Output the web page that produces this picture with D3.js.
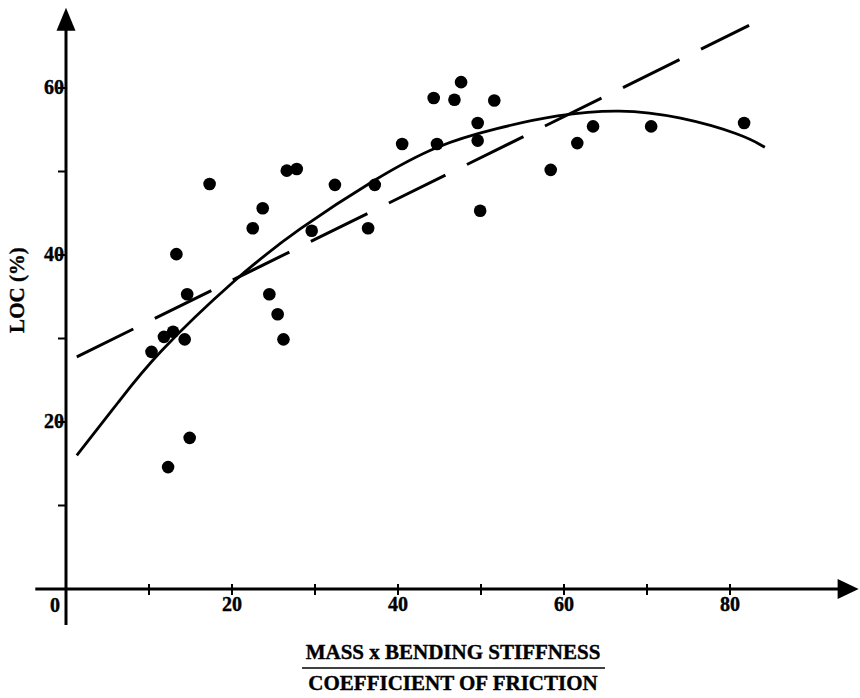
<!DOCTYPE html>
<html>
<head>
<meta charset="utf-8">
<script src="https://cdn.jsdelivr.net/npm/d3@7"></script>
<style>
body { margin: 0; background: #fff; }
text { font-family: "Liberation Serif", "Times New Roman", serif; font-weight: bold; fill: #000; stroke: #000; stroke-width: 0.4px; }
</style>
</head>
<body>
<div id="main"></div>
<script>
// tick marks and labels
var xTicks = [10, 20, 30, 40, 50, 60, 70, 80];
var xTickLabels = [20, 40, 60, 80];
var yTicks = [10, 20, 30, 40, 50, 60];
var yTickLabels = [20, 40, 60];

// measured points (x = mass*stiffness/friction, y = LOC %)
var ptX = [10.3, 11.8, 12.9, 14.3, 13.3, 14.6, 14.9, 12.3, 17.3, 22.5, 23.7, 24.5,
           25.5, 26.2, 26.6, 27.8, 29.6, 32.4, 36.4, 37.2, 40.5, 44.3, 44.7, 46.8,
           47.6, 49.6, 49.6, 49.9, 51.6, 58.4, 61.6, 63.5, 70.5, 81.7];
var ptY = [28.4, 30.2, 30.8, 29.9, 40.1, 35.3, 18.1, 14.6, 48.5, 43.2, 45.6, 35.3,
           32.9, 29.9, 50.1, 50.3, 42.9, 48.4, 43.2, 48.4, 53.3, 58.8, 53.3, 58.6,
           60.7, 55.8, 53.7, 45.3, 58.5, 50.2, 53.4, 55.4, 55.4, 55.8];

// second order fit
var fitX = [1.3, 6.5, 10.5, 20.6, 27.8, 37.5, 44.7, 51.9, 59.2, 66.7, 74.0, 81.6, 84.2];
var fitY = [16.0, 22.6, 27.8, 37.4, 43.0, 49.3, 53.2, 55.2, 56.8, 57.5, 56.6, 54.4, 52.9];

// linear fit, end points
var linX = [1.3, 82.3];
var linY = [27.8, 67.5];

var cfg = {
    width: 860,
    height: 698,
    xAxisFrom: -3.7,
    xAxisTo: 95.5,
    yAxisFrom: -4.3,
    yAxisTo: 69.6
};

var x = d3.scaleLinear().domain([0, 80]).range([66, 730]);
var y = d3.scaleLinear().domain([0, 60]).range([589, 88]);

var svg = d3
    .select("#main")
    .append("svg")
    .attr("width", cfg.width)
    .attr("height", cfg.height);

// axes
var x0 = x(0), y0 = y(0);
var xEnd = x(cfg.xAxisTo), yEnd = y(cfg.yAxisTo);

svg.append("line")
    .attr("x1", x(cfg.xAxisFrom)).attr("x2", xEnd - 12)
    .attr("y1", y0).attr("y2", y0)
    .attr("stroke", "#000").attr("stroke-width", 3);

svg.append("line")
    .attr("x1", x0).attr("x2", x0)
    .attr("y1", y(cfg.yAxisFrom)).attr("y2", yEnd + 14)
    .attr("stroke", "#000").attr("stroke-width", 3);

svg.append("path")
    .attr("d", "M" + xEnd + "," + y0 + "L" + (xEnd - 21) + "," + (y0 - 10) + "L" + (xEnd - 21) + "," + (y0 + 10) + "Z")
    .attr("fill", "#000");

svg.append("path")
    .attr("d", "M" + x0 + "," + yEnd + "L" + (x0 - 9.5) + "," + (yEnd + 23) + "L" + (x0 + 9.5) + "," + (yEnd + 23) + "Z")
    .attr("fill", "#000");

svg.selectAll(".xtick")
    .data(xTicks)
    .enter()
    .append("line")
    .attr("class", "xtick")
    .attr("x1", function (d) { return x(d); })
    .attr("x2", function (d) { return x(d); })
    .attr("y1", y0 - 5)
    .attr("y2", y0 + 6)
    .attr("stroke", "#000").attr("stroke-width", 2);

svg.selectAll(".ytick")
    .data(yTicks)
    .enter()
    .append("line")
    .attr("class", "ytick")
    .attr("x1", x0 - 8)
    .attr("x2", x0 + 1)
    .attr("y1", function (d) { return y(d); })
    .attr("y2", function (d) { return y(d); })
    .attr("stroke", "#000").attr("stroke-width", 2);

svg.selectAll(".xlab")
    .data(xTickLabels)
    .enter()
    .append("text")
    .attr("class", "xlab")
    .attr("x", function (d) { return x(d); })
    .attr("y", y0 + 22)
    .attr("text-anchor", "middle")
    .style("font-size", "20px")
    .text(function (d) { return d; });

svg.append("text")
    .attr("x", x0 - 11)
    .attr("y", y0 + 23)
    .attr("text-anchor", "middle")
    .style("font-size", "20px")
    .text("0");

svg.selectAll(".ylab")
    .data(yTickLabels)
    .enter()
    .append("text")
    .attr("class", "ylab")
    .attr("x", x0 - 2)
    .attr("y", function (d) { return y(d); })
    .attr("dy", "0.3em")
    .attr("text-anchor", "end")
    .style("font-size", "20px")
    .text(function (d) { return d; });

// axis titles
svg.append("text")
    .attr("transform", "translate(24,290) rotate(-90)")
    .attr("text-anchor", "middle")
    .style("font-size", "21px")
    .text("LOC (%)");

svg.append("text")
    .attr("x", 453)
    .attr("y", 659)
    .attr("text-anchor", "middle")
    .style("font-size", "21px")
    .text("MASS x BENDING STIFFNESS");

svg.append("line")
    .attr("x1", 302).attr("x2", 605)
    .attr("y1", 668).attr("y2", 668)
    .attr("stroke", "#000").attr("stroke-width", 1.5);

svg.append("text")
    .attr("x", 453)
    .attr("y", 690)
    .attr("text-anchor", "middle")
    .style("font-size", "21px")
    .text("COEFFICIENT OF FRICTION");

// fitted lines
var lineGen = d3.line()
    .x(function (d) { return x(d[0]); })
    .y(function (d) { return y(d[1]); });

svg.append("path")
    .datum(d3.zip(linX, linY))
    .attr("d", lineGen)
    .attr("fill", "none")
    .attr("stroke", "#000")
    .attr("stroke-width", 3)
    .attr("stroke-dasharray", "63,24");

svg.append("path")
    .datum(d3.zip(fitX, fitY))
    .attr("d", lineGen.curve(d3.curveBasis))
    .attr("fill", "none")
    .attr("stroke", "#000")
    .attr("stroke-width", 2.8);

// points
svg.selectAll(".dot")
    .data(d3.zip(ptX, ptY))
    .enter()
    .append("circle")
    .attr("class", "dot")
    .attr("cx", function (d) { return x(d[0]); })
    .attr("cy", function (d) { return y(d[1]); })
    .attr("r", 6.3)
    .attr("fill", "#000");
</script>
</body>
</html>
